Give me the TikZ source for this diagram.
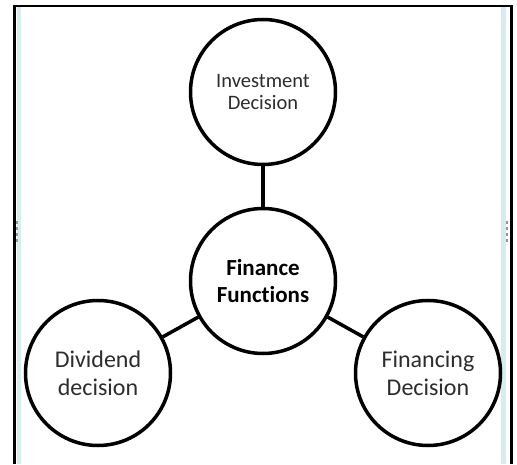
\documentclass[tikz,border=0pt]{standalone}
\usepackage{fontspec}
\setmainfont{Carlito}[Ligatures=NoCommon]
\definecolor{framecyan}{RGB}{214,236,238}
\definecolor{gripgray}{RGB}{150,150,150}
\definecolor{labelgray}{RGB}{45,45,45}
\begin{document}
\begin{tikzpicture}[x=1pt,y=1pt,
    decision/.style={circle,draw,line width=3.5pt,minimum size=145pt,inner sep=0pt,align=center,text=labelgray},
    link/.style={line width=3.5pt}]
  \useasboundingbox (0,0) rectangle (517,464);
  \fill[white] (0,0) rectangle (517,464);

  % window frame
  \fill[framecyan] (16.5,0) rectangle (21,456.5);
  \fill[framecyan] (501,0) rectangle (506,456.5);
  \draw[line width=2.5pt] (14.5,0) -- (14.5,458) -- (511.5,458) -- (511.5,0);
  \foreach \y in {222,228,234,240} {
    \fill[gripgray] (15.5,\y) rectangle (17.5,\y+3);
    \fill[gripgray] (506,\y) rectangle (508,\y+3);
  }

  \node[decision,font=\fontsize{20.5}{22}\selectfont] (inv) at (263,372) {Investment\\Decision};
  \node[decision,font=\fontsize{23}{27}\selectfont\bfseries,text=black] (fin) at (263,183) {Finance\\Functions};
  \node[decision,font=\fontsize{24}{28}\selectfont] (div) at (98,91) {Dividend\\decision};
  \node[decision,font=\fontsize{24}{28}\selectfont] (fng) at (428,91) {Financing\\Decision};

  \draw[link] (inv) -- (fin);
  \draw[link] (fin) -- (div);
  \draw[link] (fin) -- (fng);
\end{tikzpicture}
\end{document}
